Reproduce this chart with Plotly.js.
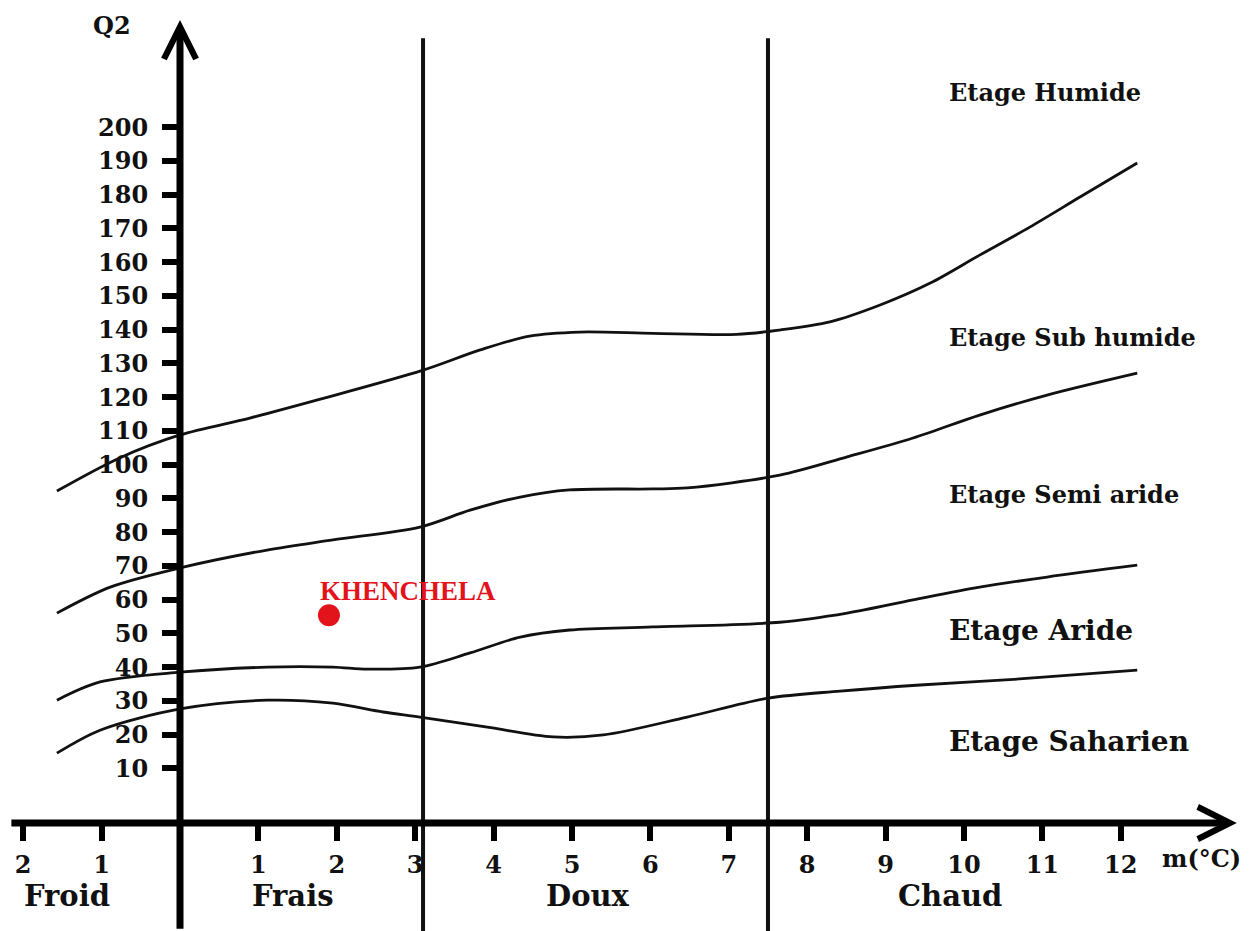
<!DOCTYPE html>
<html>
<head>
<meta charset="utf-8">
<script src="https://cdn.plot.ly/plotly-3.0.1.min.js"></script>
<style>html,body{margin:0;padding:0;background:#fff;}#chart{width:1260px;height:931px;}</style>
</head>
<body>
<div id="chart"></div>
<script>
// ---- data ----
const mTicks = [-2, -1, 1, 2, 3, 4, 5, 6, 7, 8, 9, 10, 11, 12];
const mTickText = ['2', '1', '1', '2', '3', '4', '5', '6', '7', '8', '9', '10', '11', '12'];
const q2Ticks = [10, 20, 30, 40, 50, 60, 70, 80, 90, 100, 110, 120, 130, 140, 150, 160, 170, 180, 190, 200];

const zoneNames = ['Froid', 'Frais', 'Doux', 'Chaud'];
const zoneBounds = [3.1, 7.5];

const etageNames = ['Etage Humide', 'Etage Sub humide', 'Etage Semi aride', 'Etage Aride', 'Etage Saharien'];

// limit Humide / Sub humide
const humideM  = [-1.57, -0.77, 0, 0.89, 1.79, 3.10, 3.83, 4.46, 5.10, 6.03, 7.10, 7.65, 8.29, 8.93, 9.57, 10.20, 10.84, 11.48, 12.21];
const humideQ2 = [92.2, 102.0, 108.8, 113.8, 119.4, 128.0, 134.0, 138.1, 139.3, 138.9, 138.6, 139.9, 142.3, 147.3, 153.8, 162.1, 170.4, 179.3, 189.4];
// limit Sub humide / Semi aride
const subM  = [-1.57, -0.89, 0, 1.11, 1.95, 3.06, 3.70, 4.34, 4.97, 6.03, 6.47, 7.65, 8.51, 9.35, 10.20, 11.06, 12.21];
const subQ2 = [56.0, 63.7, 69.4, 74.7, 77.7, 81.5, 86.5, 90.4, 92.5, 92.8, 93.1, 96.9, 102.3, 107.9, 114.7, 120.6, 127.1];
// limit Semi aride / Aride
const semiM  = [-1.57, -1.02, 0, 1.11, 1.95, 2.39, 3.06, 3.70, 4.34, 4.97, 6.03, 7.65, 8.51, 9.35, 10.20, 11.06, 12.21];
const semiQ2 = [30.2, 35.6, 38.5, 40.0, 40.0, 39.4, 40.0, 44.2, 48.9, 51.0, 51.9, 53.3, 56.0, 59.9, 63.7, 66.7, 70.2];
// limit Aride / Saharien
const aridM  = [-1.57, -1.02, 0, 1.11, 1.95, 2.59, 3.06, 3.92, 4.76, 5.40, 6.47, 7.50, 8.42, 9.44, 10.71, 12.21];
const aridQ2 = [14.5, 21.3, 27.6, 30.2, 29.3, 26.7, 25.2, 22.2, 19.3, 19.9, 25.2, 30.8, 32.9, 34.7, 36.5, 39.1];

const stationName = 'KHENCHELA';
const stationM = [1.90];
const stationQ2 = [55.4];

// ---- chart ----
const W = 1260, H = 931;
const xRange = [-2.296, 13.776];
const yRange = [-38.2, 237.7];
const xAxisQ2 = -6.2;       // level of the horizontal axis line
const F = 'DejaVu Serif, Liberation Serif, serif';

function curve(x, y) {
  return {x: x, y: y, type: 'scatter', mode: 'lines',
    line: {color: '#111', width: 2.8, shape: 'spline', smoothing: 0.9},
    hoverinfo: 'skip'};
}

const traces = [
  curve(humideM, humideQ2),
  curve(subM, subQ2),
  curve(semiM, semiQ2),
  curve(aridM, aridQ2),
  {x: stationM, y: stationQ2, type: 'scatter', mode: 'markers',
   marker: {color: '#e3131b', size: 22, line: {width: 0}}, hoverinfo: 'skip'}
];

const px = v => v / W;            // pixel x -> paper
const py = v => 1 - v / H;        // pixel y -> paper

const annotations = [
  // axes with arrows
  {x: 0, y: 231.8, ax: 0, ay: -38, xref: 'x', yref: 'y', axref: 'x', ayref: 'y',
   text: '', showarrow: true, arrowhead: 5, arrowsize: 0.9, arrowwidth: 7, arrowcolor: '#000'},
  {x: 13.48, y: xAxisQ2, ax: -2.17, ay: xAxisQ2, xref: 'x', yref: 'y', axref: 'x', ayref: 'y',
   text: '', showarrow: true, arrowhead: 5, arrowsize: 0.9, arrowwidth: 7, arrowcolor: '#000'},
  // axis titles
  {x: px(112), y: py(25), xref: 'paper', yref: 'paper', xanchor: 'center', yanchor: 'middle',
   text: 'Q2', showarrow: false,
   font: {family: F, size: 24, color: '#111', weight: 'bold'}},
  {x: px(1160), y: py(858), xref: 'paper', yref: 'paper', xanchor: 'left', yanchor: 'middle',
   text: 'm(°C)', showarrow: false,
   font: {family: F, size: 24, color: '#111', weight: 'bold'}},
  // station label
  {x: stationM[0], y: stationQ2[0], xref: 'x', yref: 'y', xanchor: 'left', yanchor: 'middle',
   xshift: -11, yshift: 24, text: stationName, showarrow: false,
   font: {family: 'Liberation Serif, serif', size: 27, color: '#e3131b', weight: 'bold'}}
];

const zoneCenters = [67, 293, 588, 950];
zoneNames.forEach((z, i) => annotations.push({
  x: px(zoneCenters[i]), y: py(896), xref: 'paper', yref: 'paper', xanchor: 'center', yanchor: 'middle',
  text: z, showarrow: false,
  font: {family: F, size: 29, color: '#111', weight: 'bold'}}));

const etageY = [92, 337, 494, 630, 741];
const etageSize = [24, 24, 24, 28, 28];
etageNames.forEach((e, i) => annotations.push({
  x: px(947), y: py(etageY[i]), xref: 'paper', yref: 'paper', xanchor: 'left', yanchor: 'middle',
  text: e, showarrow: false,
  font: {family: F, size: etageSize[i], color: '#111', weight: 'bold'}}));

const shapes = zoneBounds.map(b => ({
  type: 'line', xref: 'x', yref: 'y', x0: b, x1: b, y0: yRange[0] - 5, y1: 226.4,
  line: {color: '#111', width: 4}}));

const layout = {
  width: W, height: H,
  margin: {l: 0, r: 0, t: 0, b: 0},
  paper_bgcolor: '#fff', plot_bgcolor: '#fff',
  showlegend: false,
  xaxis: {range: xRange, anchor: 'free', position: 1 - 823 / H,
    showgrid: false, zeroline: false, showline: false,
    ticks: 'outside', ticklen: 17, tickwidth: 6, tickcolor: '#000',
    tickmode: 'array', tickvals: mTicks, ticktext: mTickText, ticklabelstandoff: 3,
    tickfont: {family: F, size: 24, color: '#111', weight: 'bold'}},
  yaxis: {range: yRange, anchor: 'free', position: 0.142857,
    showgrid: false, zeroline: false, showline: false,
    ticks: 'outside', ticklen: 18, tickwidth: 6, tickcolor: '#000',
    tickmode: 'array', tickvals: q2Ticks, ticklabelstandoff: 9,
    tickfont: {family: F, size: 24, color: '#111', weight: 'bold'}},
  shapes: shapes,
  annotations: annotations
};

Plotly.newPlot('chart', traces, layout, {staticPlot: true, displayModeBar: false});
</script>
</body>
</html>
